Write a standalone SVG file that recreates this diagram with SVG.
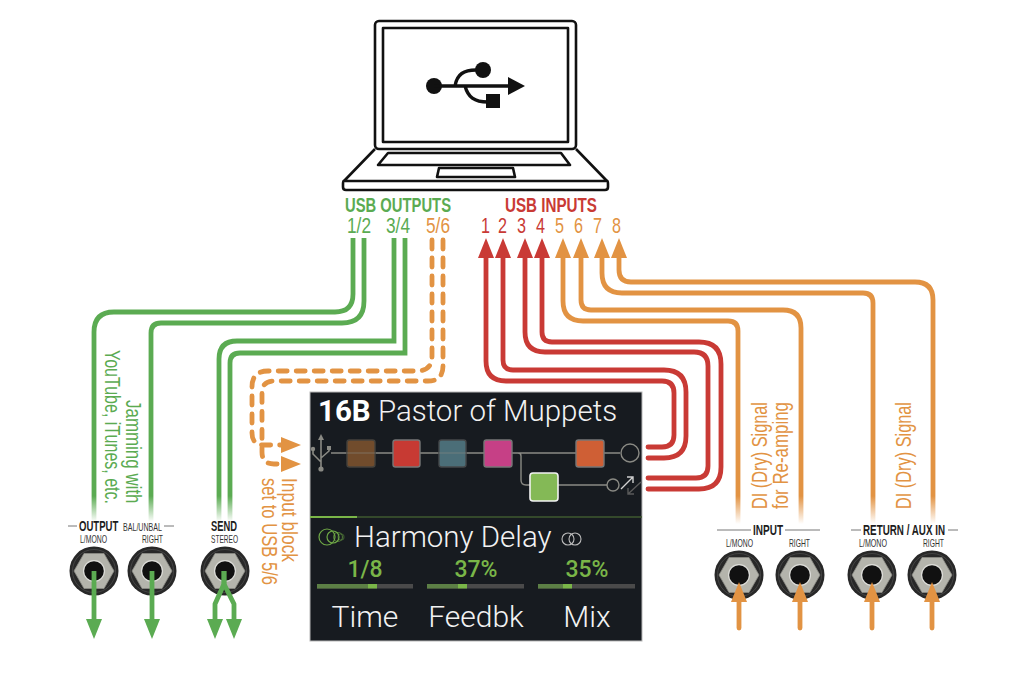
<svg xmlns="http://www.w3.org/2000/svg" width="1024" height="684" viewBox="0 0 1024 684">
<style>
  text { font-family: "Liberation Sans Narrow", "Liberation Sans", sans-serif; }
  .green { fill: #5bab52; } .orange { fill: #e29343; } .red { fill: #c93a35; }
  .head { font-size: 20px; font-weight: bold; }
  .chan { font-size: 21.5px; }
  .note { font-size: 22px; }
  .jackhead { font-size: 14.5px; font-weight: bold; fill: #1c1c1c; }
  .jacksub { font-size: 11px; fill: #333; }
  .rule { stroke: #777; stroke-width: 1; fill: none; }
  .ui { font-family: Roboto, "Liberation Sans", sans-serif; }
  .title { font-size: 29.5px; font-weight: 300; fill: #f2f2f2; }
  .val { font-size: 23px; font-weight: 500; fill: #7ab648; text-anchor: middle; }
  .param { font-size: 30px; font-weight: 300; fill: #f2f2f2; text-anchor: middle; }
  .wire { fill: none; stroke-width: 4.8; }
  .w-green { stroke: url(#fadeGreen); }
  .w-orange { stroke: url(#fadeOrange); }
  .w-red { stroke: #c93a35; stroke-linecap: round; }
  .w-dash { stroke: #e29343; stroke-dasharray: 9 9; stroke-linecap: round; }
  .solid-g { stroke: #5bab52; }
  .solid-o { stroke: #e29343; }
  .lap { fill: none; stroke: #111; stroke-width: 2.6; stroke-linejoin: round; }
  .blk { stroke-width: 1.4; }
  .sig { stroke: #8a8a84; stroke-width: 1.4; fill: none; }
  .track { fill: #4a4a4a; } .fill { fill: #5c7f45; } .knob { fill: #7ab648; }
</style>
<defs>
  <linearGradient id="fadeGreen" gradientUnits="userSpaceOnUse" x1="0" y1="496" x2="0" y2="522">
    <stop offset="0" stop-color="#5bab52"/><stop offset="1" stop-color="#5bab52" stop-opacity="0"/>
  </linearGradient>
  <linearGradient id="fadeOrange" gradientUnits="userSpaceOnUse" x1="0" y1="496" x2="0" y2="524">
    <stop offset="0" stop-color="#e29343"/><stop offset="1" stop-color="#e29343" stop-opacity="0"/>
  </linearGradient>
  <marker id="ahGreen" markerUnits="userSpaceOnUse" markerWidth="20" markerHeight="16" viewBox="0 0 20 16" refX="2" refY="8" orient="auto"><path d="M0 0L20 8L0 16z" fill="#5bab52"/></marker>
  <marker id="ahOrange" markerUnits="userSpaceOnUse" markerWidth="20" markerHeight="16" viewBox="0 0 20 16" refX="2" refY="8" orient="auto"><path d="M0 0L20 8L0 16z" fill="#e29343"/></marker>
  <marker id="ahRed" markerUnits="userSpaceOnUse" markerWidth="20" markerHeight="16" viewBox="0 0 20 16" refX="2" refY="8" orient="auto"><path d="M0 0L20 8L0 16z" fill="#c93a35"/></marker>
  <g id="jack">
    <circle r="24.5" fill="#282828"/>
    <circle r="21.5" fill="none" stroke="#444" stroke-width="1"/>
    <path d="M-20 0L-10 -17.5H10L20 0L10 17.5H-10z" fill="#b4b4ac" stroke="#8d8d86" stroke-width="0.8"/>
    <circle r="11" fill="#dededa"/>
    <circle r="9.8" fill="#111"/>
  </g>
</defs>

<rect width="1024" height="684" fill="#fff"/>

<g id="laptop">
  <rect class="lap" x="375" y="21" width="201" height="128" rx="4"/>
  <rect class="lap" x="383" y="28" width="185" height="114"/>
  <path class="lap" d="M375 149L344 181H607L576 149"/>
  <path class="lap" d="M344 181Q343 181 343 184V187Q343 190 346 190H605Q608 190 608 187V184Q608 181 607 181"/>
  <path class="lap" stroke-width="1.8" d="M388 153H561L570 165H378z"/>
  <path class="lap" stroke-width="1.8" d="M439 168H513L515 177H437z"/>
  <g id="usb-symbol">
    <circle cx="434" cy="86" r="8" fill="#111"/>
    <circle cx="483" cy="70" r="8" fill="#111"/>
    <rect x="486" y="94" width="14" height="14" fill="#111"/>
    <path d="M434 86H510M455 86C457 74 464 70 476 70M465 86C468 97 474 102 488 102" fill="none" stroke="#111" stroke-width="3.4"/>
    <path d="M508 77L525 86L508 95z" fill="#111"/>
  </g>
</g>

<g id="usb-outputs">
  <text class="head green" x="345" y="212" textLength="106" lengthAdjust="spacingAndGlyphs">USB OUTPUTS</text>
  <text class="chan green" x="347" y="233" textLength="24" lengthAdjust="spacingAndGlyphs">1/2</text>
  <text class="chan green" x="386" y="233" textLength="24" lengthAdjust="spacingAndGlyphs">3/4</text>
  <text class="chan orange" x="426" y="233" textLength="24" lengthAdjust="spacingAndGlyphs">5/6</text>
</g>
<g id="usb-inputs">
  <text class="head red" x="505" y="212" textLength="92" lengthAdjust="spacingAndGlyphs">USB INPUTS</text>
  <g class="chan">
    <text class="red" x="481" y="233" textLength="9" lengthAdjust="spacingAndGlyphs">1</text>
    <text class="red" x="498" y="233" textLength="9" lengthAdjust="spacingAndGlyphs">2</text>
    <text class="red" x="517" y="233" textLength="9" lengthAdjust="spacingAndGlyphs">3</text>
    <text class="red" x="536" y="233" textLength="9" lengthAdjust="spacingAndGlyphs">4</text>
    <text class="orange" x="555" y="233" textLength="9" lengthAdjust="spacingAndGlyphs">5</text>
    <text class="orange" x="574" y="233" textLength="9" lengthAdjust="spacingAndGlyphs">6</text>
    <text class="orange" x="593" y="233" textLength="9" lengthAdjust="spacingAndGlyphs">7</text>
    <text class="orange" x="612" y="233" textLength="9" lengthAdjust="spacingAndGlyphs">8</text>
  </g>
</g>

<!-- Jack sockets sit under the wire ends -->
<g id="jack-output-l"><use href="#jack" x="94" y="571"/></g>
<g id="jack-output-r"><use href="#jack" x="152" y="571"/></g>
<g id="jack-send"><use href="#jack" x="225" y="571"/></g>
<g id="jack-input-l"><use href="#jack" x="739" y="575"/></g>
<g id="jack-input-r"><use href="#jack" x="800" y="575"/></g>
<g id="jack-return-l"><use href="#jack" x="872" y="575"/></g>
<g id="jack-return-r"><use href="#jack" x="932" y="575"/></g>

<g id="connectors">
  <path class="wire w-green" d="M353 238V294Q353 312 335 312H114Q94 312 94 332V522"/>
  <path class="wire w-green" d="M364 238V301Q364 323 342 323H161Q151 323 151 333V522"/>
  <path class="wire w-green" d="M394 238V341H237Q219 341 219 359V522"/>
  <path class="wire w-green" d="M405 238V353H240Q230 353 230 363V522"/>

  <path class="wire w-dash" marker-end="url(#ahOrange)" d="M432 240V356Q432 371 417 371H268Q252 371 252 387V433Q252 445 264 445H283"/>
  <path class="wire w-dash" marker-end="url(#ahOrange)" d="M443 240V366Q443 381 428 381H274Q262 381 262 393V452Q262 464 274 464H283"/>

  <path class="wire w-red" marker-end="url(#ahRed)" d="M648 447H662Q674 447 674 435V393Q674 381 662 381H506Q486 381 486 361V256"/>
  <path class="wire w-red" marker-end="url(#ahRed)" d="M648 458H664Q686 458 686 436V392Q686 370 664 370H513Q503 370 503 360V256"/>
  <path class="wire w-red" marker-end="url(#ahRed)" d="M648 478H696Q708 478 708 466V366Q708 352 694 352H545Q525 352 525 332V256"/>
  <path class="wire w-red" marker-end="url(#ahRed)" d="M648 489H699Q721 489 721 467V364Q721 342 699 342H552Q542 342 542 332V256"/>

  <path class="wire w-orange" marker-end="url(#ahOrange)" d="M738 524V331Q738 321 728 321H583Q563 321 563 301V256"/>
  <path class="wire w-orange" marker-end="url(#ahOrange)" d="M801 524V328Q801 310 783 310H591Q581 310 581 300V256"/>
  <path class="wire w-orange" marker-end="url(#ahOrange)" d="M873 524V303Q873 293 863 293H622Q602 293 602 273V256"/>
  <path class="wire w-orange" marker-end="url(#ahOrange)" d="M933 524V300Q933 282 915 282H631Q619 282 619 270V256"/>

  <path class="wire solid-g" marker-end="url(#ahGreen)" d="M94 571V621"/>
  <path class="wire solid-g" marker-end="url(#ahGreen)" d="M152 571V621"/>
  <path class="wire solid-g" stroke-linejoin="round" marker-end="url(#ahGreen)" d="M224 571V584L215 604V621"/>
  <path class="wire solid-g" stroke-linejoin="round" marker-end="url(#ahGreen)" d="M224 571V584L234 604V621"/>

  <path class="wire solid-o" stroke-linecap="round" marker-end="url(#ahOrange)" d="M739 628V600"/>
  <path class="wire solid-o" stroke-linecap="round" marker-end="url(#ahOrange)" d="M800 628V600"/>
  <path class="wire solid-o" stroke-linecap="round" marker-end="url(#ahOrange)" d="M872 628V600"/>
  <path class="wire solid-o" stroke-linecap="round" marker-end="url(#ahOrange)" d="M932 628V600"/>
</g>

<g id="note-jamming">
  <text class="note green" transform="translate(126 400) rotate(90) scale(0.77 1)">Jamming with</text>
  <text class="note green" transform="translate(105 350) rotate(90)" textLength="154" lengthAdjust="spacingAndGlyphs">YouTube, iTunes, etc.</text>
</g>
<g id="note-input-block">
  <text class="note orange" transform="translate(282 478) rotate(90)" textLength="84" lengthAdjust="spacingAndGlyphs">Input block</text>
  <text class="note orange" transform="translate(262 478) rotate(90)" textLength="107" lengthAdjust="spacingAndGlyphs">set to USB 5/6</text>
</g>
<g id="note-di-reamp">
  <text class="note orange" transform="translate(767 509) rotate(-90)" textLength="107" lengthAdjust="spacingAndGlyphs">DI (Dry) Signal</text>
  <text class="note orange" transform="translate(788 509) rotate(-90)" textLength="107" lengthAdjust="spacingAndGlyphs">for Re-amping</text>
</g>
<g id="note-di">
  <text class="note orange" transform="translate(911 509) rotate(-90)" textLength="107" lengthAdjust="spacingAndGlyphs">DI (Dry) Signal</text>
</g>

<g id="label-output">
  <path class="rule" d="M68 526H77M164 526H174"/>
  <text class="jackhead" transform="translate(79 531) scale(0.66 1)">OUTPUT</text>
  <text class="jacksub" x="123" y="531" textLength="39" lengthAdjust="spacingAndGlyphs">BAL/UNBAL</text>
  <text class="jacksub" x="80" y="543" textLength="27" lengthAdjust="spacingAndGlyphs">L/MONO</text>
  <text class="jacksub" x="142" y="543" textLength="21" lengthAdjust="spacingAndGlyphs">RIGHT</text>
</g>
<g id="label-send">
  <text class="jackhead" x="211" y="531" textLength="26" lengthAdjust="spacingAndGlyphs">SEND</text>
  <text class="jacksub" x="211" y="543" textLength="27" lengthAdjust="spacingAndGlyphs">STEREO</text>
</g>
<g id="label-input">
  <path class="rule" d="M717 530H751M785 530H820"/>
  <text class="jackhead" x="753" y="535" textLength="30" lengthAdjust="spacingAndGlyphs">INPUT</text>
  <text class="jacksub" x="726" y="547" textLength="27" lengthAdjust="spacingAndGlyphs">L/MONO</text>
  <text class="jacksub" x="789" y="547" textLength="21" lengthAdjust="spacingAndGlyphs">RIGHT</text>
</g>
<g id="label-return">
  <path class="rule" d="M851 530H861M948 530H958"/>
  <text class="jackhead" x="863" y="535" textLength="82" lengthAdjust="spacingAndGlyphs">RETURN / AUX IN</text>
  <text class="jacksub" x="859" y="547" textLength="28" lengthAdjust="spacingAndGlyphs">L/MONO</text>
  <text class="jacksub" x="923" y="547" textLength="21" lengthAdjust="spacingAndGlyphs">RIGHT</text>
</g>

<g id="screen">
  <rect x="310" y="392" width="332" height="249" fill="#171b20" stroke="#b8b8b8" stroke-width="1"/>
  <text class="ui title" x="318" y="421"><tspan font-weight="700" fill="#fff">16B</tspan> Pastor of Muppets</text>

  <g id="signal-path">
    <path class="sig" d="M331 453H620M518 453Q521 453 521 456V480Q521 485 526 485H607"/>
    <circle class="sig" cx="630" cy="453" r="9" stroke-width="1.6"/>
    <circle class="sig" cx="613" cy="485" r="6"/>
    <path d="M621 489L633 477M627 477H633V483" fill="none" stroke="#d0d0d0" stroke-width="1.4"/>
    <path d="M641 482L628 494M628 488V494H634" fill="none" stroke="#5a5a5a" stroke-width="1.4"/>
    <g fill="none" stroke="#8a8a84" stroke-width="1.6">
      <path d="M321 438V468M321 462L313 454V450M321 458L329 451V449"/>
    </g>
    <path d="M321 434L324 440H318z" fill="#8a8a84"/>
    <circle cx="321" cy="469" r="2.6" fill="#8a8a84"/>
    <circle cx="313" cy="449" r="2.2" fill="#8a8a84"/>
    <rect x="327" y="446" width="4" height="4" fill="#8a8a84"/>
  </g>
  <g id="block-1"><rect class="blk" x="347" y="440" width="28" height="27" rx="2.5" fill="#714c2c" stroke="#45423c"/></g>
  <g id="block-2"><rect class="blk" x="393" y="440" width="27" height="27" rx="2.5" fill="#c73a33" stroke="#777"/></g>
  <g id="block-3"><rect class="blk" x="439" y="440" width="27" height="27" rx="2.5" fill="#4b6e78" stroke="#45484a"/></g>
  <g id="block-4"><rect class="blk" x="484" y="440" width="28" height="27" rx="2.5" fill="#c64086" stroke="#777"/></g>
  <g id="block-5"><rect class="blk" x="576" y="440" width="28" height="27" rx="2.5" fill="#cf5f35" stroke="#777"/></g>
  <g id="block-6"><rect x="530" y="473" width="28" height="28" rx="3" fill="#84b956" stroke="#f2f2f2" stroke-width="1.6"/></g>
  <!-- The signal line shows faintly through bypassed blocks -->
  <path class="sig" d="M347 453H375M439 453H466" opacity="0.4"/>

  <path d="M310 517H642" stroke="#3f5a2f" stroke-width="1.4"/>
  <path d="M310 517H357" stroke="#7ab648" stroke-width="2"/>

  <g id="delay-icon" fill="none" stroke="#6ea746" stroke-width="1.2">
    <circle cx="327" cy="537" r="8"/>
    <circle cx="333" cy="537" r="6"/>
    <circle cx="338" cy="537" r="4.5" stroke-opacity="0.6"/>
    <circle cx="341" cy="537" r="3" stroke-opacity="0.4"/>
  </g>
  <text class="ui title" x="354" y="547">Harmony Delay</text>
  <g fill="none" stroke="#bbb" stroke-width="1.1">
    <circle cx="568" cy="539" r="6"/>
    <circle cx="575" cy="539" r="6"/>
  </g>

  <text class="ui val" x="365" y="577">1/8</text>
  <text class="ui val" x="476" y="577">37%</text>
  <text class="ui val" x="587" y="577">35%</text>

  <rect class="track" x="317" y="584" width="96" height="4.5"/>
  <rect class="fill" x="317" y="584" width="51" height="4.5"/>
  <rect class="knob" x="368" y="584" width="9" height="4.5"/>
  <rect class="track" x="427" y="584" width="97" height="4.5"/>
  <rect class="fill" x="427" y="584" width="31" height="4.5"/>
  <rect class="knob" x="458" y="584" width="9" height="4.5"/>
  <rect class="track" x="538" y="584" width="97" height="4.5"/>
  <rect class="fill" x="538" y="584" width="25" height="4.5"/>
  <rect class="knob" x="563" y="584" width="9" height="4.5"/>

  <text class="ui param" x="365" y="627">Time</text>
  <text class="ui param" x="476" y="627">Feedbk</text>
  <text class="ui param" x="587" y="627">Mix</text>
</g>
</svg>
